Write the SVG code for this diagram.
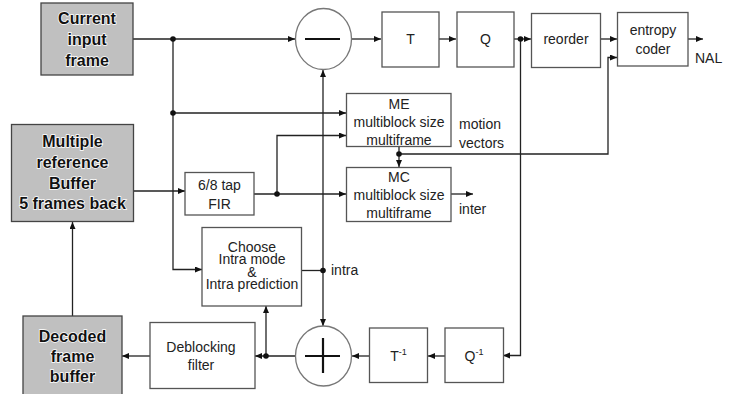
<svg xmlns="http://www.w3.org/2000/svg" width="731" height="394" viewBox="0 0 731 394">
<style>
.box{fill:#fff;stroke:#555;stroke-width:1.3}
.gbox{fill:#c0c0c0;stroke:#444;stroke-width:1.3}
.t{font-family:"Liberation Sans",Arial,sans-serif;font-size:14px;fill:#222;text-anchor:middle}
.tl{font-family:"Liberation Sans",Arial,sans-serif;font-size:14px;fill:#222}
.b{font-family:"Liberation Sans",Arial,sans-serif;font-size:16px;font-weight:bold;fill:#111;text-anchor:middle;stroke:#fff;stroke-width:1.5;paint-order:stroke}
.c{fill:none;stroke:#222;stroke-width:1.3}
.ar{marker-end:url(#ah)}
.dot{fill:#111}
.sum{fill:#fff;stroke:#777;stroke-width:1.3}
.sign{stroke:#111;stroke-width:2.2}
</style>
<defs>
<marker id="ah" markerUnits="userSpaceOnUse" markerWidth="8" markerHeight="8" refX="7" refY="3" orient="auto-start-reverse"><path d="M0,0 L7,3 L0,6 z" fill="#111"/></marker>
</defs>
<rect width="731" height="394" fill="#fff"/>
<g id="connectors">
<path class="c ar" d="M133,39 H295"/>
<path class="c ar" d="M173,39 V269.5 H202"/>
<path class="c ar" d="M173,113 H346"/>
<path class="c ar" d="M133,191 H185"/>
<path class="c ar" d="M254,194 H346"/>
<path class="c ar" d="M277,194 V135.5 H346"/>
<path class="c ar" d="M399,147 V167"/>
<path class="c ar" d="M399,154 H608 V57.5 H617"/>
<path class="c ar" d="M352,39 H381"/>
<path class="c ar" d="M439,39 H456"/>
<path class="c ar" d="M514,39 H531"/>
<path class="c ar" d="M601,39 H617"/>
<path class="c ar" d="M688,39 H703"/>
<path class="c ar" d="M520.5,39 V355.5 H503"/>
<path class="c ar" d="M445,356 H428"/>
<path class="c ar" d="M369,356 H352"/>
<path class="c ar" d="M295,356 H255"/>
<path class="c ar" d="M266,356 V306"/>
<path class="c ar" d="M150,356 H122"/>
<path class="c ar" d="M72.5,316 V222"/>
<path class="c ar" d="M451,194 H473"/>
<path class="c" d="M301,270.5 H323"/>
<path class="c" d="M323,70 V326" style="marker-start:url(#ah);marker-end:url(#ah)"/>
<circle class="dot" cx="173" cy="39" r="2.8"/>
<circle class="dot" cx="173" cy="113" r="2.8"/>
<circle class="dot" cx="277" cy="194" r="2.8"/>
<circle class="dot" cx="399" cy="154" r="2.8"/>
<circle class="dot" cx="520.5" cy="39" r="2.8"/>
<circle class="dot" cx="266" cy="356" r="2.8"/>
<circle class="dot" cx="323" cy="270.5" r="2.8"/>
</g>
<g id="current">
<rect class="gbox" x="41" y="3" width="92" height="72"/>
<text class="b" x="87" y="24">Current</text>
<text class="b" x="87" y="45">input</text>
<text class="b" x="87" y="66">frame</text>
</g>
<g id="multiref">
<rect class="gbox" x="11.5" y="124.5" width="122" height="97"/>
<text class="b" x="72.5" y="147">Multiple</text>
<text class="b" x="72.5" y="168">reference</text>
<text class="b" x="72.5" y="188.5">Buffer</text>
<text class="b" x="72.5" y="208.5">5 frames back</text>
</g>
<g id="decoded">
<rect class="gbox" x="23" y="316" width="99" height="82"/>
<text class="b" x="72.5" y="341.5">Decoded</text>
<text class="b" x="72.5" y="362">frame</text>
<text class="b" x="72.5" y="382">buffer</text>
</g>
<g id="minus">
<ellipse class="sum" cx="323.5" cy="39" rx="28" ry="30.5"/>
<line class="sign" x1="305" y1="39" x2="340" y2="39"/>
</g>
<g id="plus">
<ellipse class="sum" cx="323.5" cy="356" rx="28" ry="30"/>
<line class="sign" x1="305" y1="356" x2="340" y2="356"/>
<line class="sign" x1="323" y1="338" x2="323" y2="373"/>
</g>
<g id="T">
<rect class="box" x="382" y="12" width="57" height="55"/>
<text class="t" x="410.5" y="44">T</text>
</g>
<g id="Q">
<rect class="box" x="457" y="12" width="57" height="55"/>
<text class="t" x="485.5" y="44">Q</text>
</g>
<g id="reorder">
<rect class="box" x="531.5" y="13.5" width="69" height="54"/>
<text class="t" x="566" y="44">reorder</text>
</g>
<g id="entropy">
<rect class="box" x="617.5" y="12.5" width="70.5" height="53.5"/>
<text class="t" x="653" y="35">entropy</text>
<text class="t" x="653" y="53.5">coder</text>
</g>
<text class="tl" x="695" y="63">NAL</text>
<g id="ME">
<rect class="box" x="346.5" y="93.5" width="104.5" height="53"/>
<text class="t" x="399" y="108.5">ME</text>
<text class="t" x="399" y="126.5">multiblock size</text>
<text class="t" x="399" y="144.5">multiframe</text>
</g>
<text class="tl" x="459" y="129">motion</text>
<text class="tl" x="459" y="147.5">vectors</text>
<g id="MC">
<rect class="box" x="346.5" y="167.5" width="104.5" height="54"/>
<text class="t" x="399" y="182">MC</text>
<text class="t" x="399" y="199.5">multiblock size</text>
<text class="t" x="399" y="217.5">multiframe</text>
</g>
<text class="tl" x="459" y="214">inter</text>
<g id="FIR">
<rect class="box" x="185" y="172.5" width="69" height="42.5"/>
<text class="t" x="219.5" y="190">6/8 tap</text>
<text class="t" x="219.5" y="208.5">FIR</text>
</g>
<g id="choose">
<rect class="box" x="202" y="227.5" width="99.5" height="78.5"/>
<text class="t" x="252" y="251.7">Choose</text>
<text class="t" x="252" y="264.3">Intra mode</text>
<text class="t" x="252" y="276.7">&amp;</text>
<text class="t" x="252" y="289.3">Intra prediction</text>
</g>
<text class="tl" x="331" y="275">intra</text>
<g id="Tinv">
<rect class="box" x="369.5" y="328" width="58" height="54.5"/>
<text class="t" x="398.5" y="361">T<tspan font-size="9" dy="-6">-1</tspan></text>
</g>
<g id="Qinv">
<rect class="box" x="445" y="328" width="58.5" height="54.5"/>
<text class="t" x="474" y="361">Q<tspan font-size="9" dy="-6">-1</tspan></text>
</g>
<g id="deblock">
<rect class="box" x="150" y="322.5" width="105" height="66"/>
<text class="t" x="201" y="352">Deblocking</text>
<text class="t" x="201" y="369.5">filter</text>
</g>
</svg>
